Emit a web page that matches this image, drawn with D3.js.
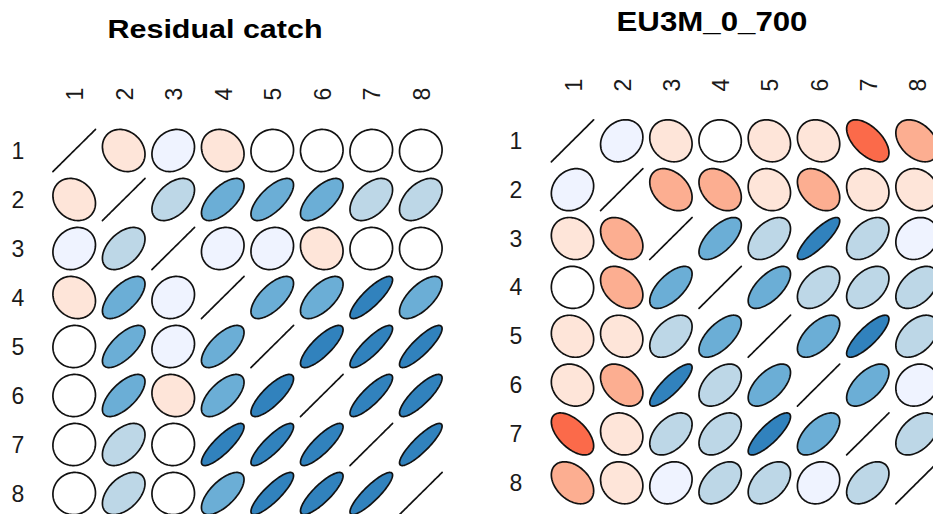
<!DOCTYPE html>
<html>
<head>
<meta charset="utf-8">
<script src="https://cdn.jsdelivr.net/npm/d3@7"></script>
<style>
  body { margin: 0; background: #ffffff; }
  svg { display: block; }
  text { font-family: "Liberation Sans", Arial, sans-serif; fill: #1a1a1a; }
</style>
</head>
<body>
<svg id="chart" width="933" height="514"></svg>
<script>
// Variable labels shared by both correlation matrices
const variables = ["1", "2", "3", "4", "5", "6", "7", "8"];

// Correlation matrix: residual catch
const residualCatch = [
  [ 1.00, -0.18,  0.17, -0.16,  0.03,  0.02,  0.04,  0.03],
  [-0.18,  1.00,  0.46,  0.64,  0.69,  0.66,  0.47,  0.47],
  [ 0.17,  0.46,  1.00,  0.15,  0.13, -0.12,  0.02,  0.01],
  [-0.16,  0.64,  0.15,  1.00,  0.67,  0.63,  0.84,  0.66],
  [ 0.03,  0.69,  0.13,  0.67,  1.00,  0.80,  0.85,  0.85],
  [ 0.02,  0.66, -0.12,  0.63,  0.80,  1.00,  0.84,  0.83],
  [ 0.04,  0.47,  0.02,  0.84,  0.85,  0.84,  1.00,  0.87],
  [ 0.03,  0.47,  0.01,  0.66,  0.85,  0.83,  0.87,  1.00]
];

// Correlation matrix: EU3M_0_700
const eu3m = [
  [ 1.00,  0.18, -0.15, -0.02, -0.14, -0.15, -0.57, -0.38],
  [ 0.18,  1.00, -0.36, -0.36, -0.14, -0.37, -0.13, -0.14],
  [-0.15, -0.36,  1.00,  0.64,  0.46,  0.84,  0.46,  0.17],
  [-0.02, -0.36,  0.64,  1.00,  0.64,  0.45,  0.44,  0.45],
  [-0.14, -0.14,  0.46,  0.64,  1.00,  0.60,  0.82,  0.44],
  [-0.15, -0.37,  0.84,  0.45,  0.60,  1.00,  0.60,  0.15],
  [-0.57, -0.13,  0.46,  0.44,  0.82,  0.60,  1.00,  0.45],
  [-0.38, -0.14,  0.17,  0.45,  0.44,  0.15,  0.45,  1.00]
];

// Colour classes: correlation rounded to the nearest 0.2
const colourBreaks = [-0.9, -0.7, -0.5, -0.3, -0.1, 0.1, 0.3, 0.5, 0.7, 0.9];
const colourClasses = ["#A50F15", "#DE2D26", "#FB6A4A", "#FCAE91", "#FEE5D9", "#FFFFFF",
                       "#EFF3FF", "#BDD7E7", "#6BAED6", "#3182BD", "#08519C"];

const svg = d3.select("#chart");
const colour = d3.scaleThreshold().domain(colourBreaks).range(colourClasses);

// Ellipse outline for correlation r (as in ellipse::ellipse with t = 0.43)
function ellipsePoints(r, t = 0.43, n = 100) {
  const d = Math.acos(Math.max(-1, Math.min(1, r)));
  return d3.range(n).map(k => {
    const a = 2 * Math.PI * k / (n - 1);
    return [t * Math.cos(a + d / 2), t * Math.cos(a - d / 2)];
  });
}

function drawPanel(cfg) {
  const g = svg.append("g");
  const x = d3.scaleLinear().domain([1, variables.length]).range(cfg.xRange);
  const y = d3.scaleLinear().domain([1, variables.length]).range(cfg.yRange);

  g.append("text")
    .attr("x", cfg.titleX).attr("y", cfg.titleY)
    .attr("text-anchor", "middle")
    .attr("font-weight", "bold")
    .attr("font-size", cfg.titleSize)
    .attr("textLength", cfg.titleLength)
    .attr("lengthAdjust", "spacingAndGlyphs")
    .style("fill", "#000")
    .text(cfg.title);

  // column labels, rotated
  g.selectAll("text.col").data(variables).join("text")
    .attr("class", "col")
    .attr("transform", (v, j) => `translate(${x(j + 1) + 1},${cfg.colLabelY}) rotate(-90)`)
    .attr("text-anchor", "middle")
    .attr("dominant-baseline", "central")
    .attr("font-size", cfg.labelSize)
    .text(v => v);

  // row labels
  g.selectAll("text.row").data(variables).join("text")
    .attr("class", "row")
    .attr("x", cfg.rowLabelX)
    .attr("y", (v, i) => y(i + 1))
    .attr("text-anchor", "middle")
    .attr("dominant-baseline", "central")
    .attr("font-size", cfg.labelSize)
    .text(v => v);

  const cells = [];
  cfg.matrix.forEach((row, i) => row.forEach((r, j) => cells.push({ i: i + 1, j: j + 1, r })));

  const line = d3.line()
    .x(p => p[0]).y(p => p[1]);

  g.selectAll("path.cell").data(cells).join("path")
    .attr("class", "cell")
    .attr("d", c => line(ellipsePoints(c.r).map(p => [x(c.j + p[0]), y(c.i - p[1])])) + "Z")
    .attr("fill", c => c.i === c.j ? "none" : colour(c.r))
    .attr("stroke", "#111")
    .attr("stroke-width", 1.7)
    .attr("stroke-linejoin", "round");
}

drawPanel({
  matrix: residualCatch,
  title: "Residual catch",
  titleX: 215, titleY: 38, titleSize: 26, titleLength: 215,
  xRange: [74.2, 420.8],
  yRange: [150.5, 493.5],
  colLabelY: 94,
  rowLabelX: 18,
  labelSize: 23
});

drawPanel({
  matrix: eu3m,
  title: "EU3M_0_700",
  titleX: 712, titleY: 31, titleSize: 28, titleLength: 191,
  xRange: [572.5, 917],
  yRange: [140.8, 482.8],
  colLabelY: 85,
  rowLabelX: 516,
  labelSize: 23
});
</script>
</body>
</html>
